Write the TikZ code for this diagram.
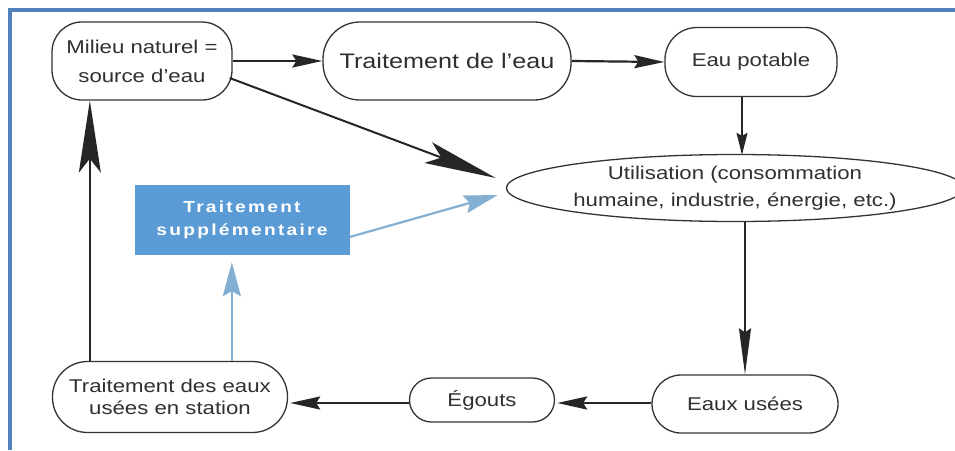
\documentclass[tikz,border=0pt]{standalone}
\usepackage{fontspec}
\setmainfont{Liberation Sans}[FakeStretch=1.2]
\newfontfamily\boxfont{Liberation Sans}[FakeStretch=1.2,LetterSpace=14]
\usetikzlibrary{arrows.meta,shapes.geometric,calc}
\definecolor{frameblue}{HTML}{4F81BD}
\definecolor{boxblue}{HTML}{5B9BD5}
\definecolor{arrowblue}{HTML}{82AFD2}
\definecolor{txt}{HTML}{303030}
\tikzset{
  pill/.style={draw=black!80, line width=1.3pt, text=txt, align=center,
    font=\fontsize{18.5}{22}\selectfont, inner sep=0pt},
  blk/.style={draw=black!85, line width=2.2pt, -{Stealth[length=30pt,width=13pt,inset=4pt]}},
  thinblk/.style={draw=black!85, line width=1.3pt, -{Stealth[length=22pt,width=11pt,inset=3pt]}},
  longblk/.style={draw=black!85, line width=2pt, -{Stealth[length=72pt,width=22pt,inset=14pt]}},
  bluearr/.style={draw=arrowblue, line width=2.2pt, -{Stealth[length=34pt,width=18pt,inset=5pt]}},
}
\begin{document}
\begin{tikzpicture}[x=1pt,y=-1pt]
\useasboundingbox (0,0) rectangle (955,450);
\fill[white] (0,0) rectangle (955,450);
% frame
\draw[frameblue, line width=4pt] (8,10) -- (955,10);
\draw[frameblue, line width=4pt] (10,8) -- (10,450);
% nodes
\node[pill, rounded corners=30pt, minimum width=180pt, minimum height=78pt] (mil) at (142,61)
  {Milieu naturel =\\[7pt]source d'eau};
\node[pill, rounded corners=37pt, minimum width=248pt, minimum height=78pt,
  font=\fontsize{21}{24}\selectfont] (trt) at (447,61) {Traitement de l'eau};
\node[pill, rounded corners=32pt, minimum width=172pt, minimum height=69pt] (pot) at (751,62)
  {Eau potable};
\node[pill, ellipse, minimum width=430pt, minimum height=67pt] (uti) at (735,188)
  {Utilisation (consommation\\[5pt]humaine, industrie, énergie, etc.)};
\node[fill=boxblue, minimum width=215pt, minimum height=70pt, text=white, align=center,
  font=\boxfont\bfseries\fontsize{16}{23}\selectfont, inner sep=0pt] (sup) at (242,220)
  {Traitement\\supplémentaire};
\node[pill, rounded corners=35pt, minimum width=235pt, minimum height=71pt] (stn) at (170,397)
  {Traitement des eaux\\usées en station};
\node[pill, rounded corners=22pt, minimum width=145pt, minimum height=44pt] (ego) at (482,400)
  {Égouts};
\node[pill, rounded corners=29pt, minimum width=186pt, minimum height=58pt] (use) at (745,404)
  {Eaux usées};
% helper coordinates
\coordinate (potS) at ($(pot.south)+(-9,0)$);
\coordinate (utiN) at ($(potS |- uti.north)+(0,1)$);
\coordinate (useW) at ($(use.west)+(0,-1)$);
\coordinate (egoE) at ($(useW -| ego.east)+(2,0)$);
\coordinate (egoW) at ($(ego.west)+(0,3)$);
\coordinate (stnE) at ($(egoW -| stn.east)+(2,0)$);
\coordinate (stnA) at ($(stn.north west)+(38,0)$);
\coordinate (milS) at (stnA |- mil.south);
\coordinate (stnB) at ($(stn.north west)+(180,0)$);
\coordinate (supS) at (stnB |- sup.south);
\coordinate (milE) at ($(mil.east)+(-3,17)$);
\coordinate (utiW1) at ($(uti.west)+(-10,-10)$);
\coordinate (supE) at ($(sup.east)+(0,17)$);
\coordinate (utiW2) at ($(uti.west)+(-8,7)$);
% connectors
\draw[blk] (mil.east) -- (trt.west);
\draw[blk] (trt.east) -- (pot.west);
\draw[thinblk] (potS) -- (utiN);
\draw[thinblk, line width=1.6pt, -{Stealth[length=46pt,width=12pt,inset=4pt]}]
  (uti.south -| use.north) -- (use.north);
\draw[blk, line width=2.6pt] (useW) -- (egoE);
\draw[blk] (egoW) -- (stnE);
\draw[longblk] (stnA) -- (milS);
\draw[longblk] (milE) -- (utiW1);
\draw[bluearr, shorten >=7pt] (stnB) -- (supS);
\draw[bluearr] (supE) -- (utiW2);
\end{tikzpicture}
\end{document}
